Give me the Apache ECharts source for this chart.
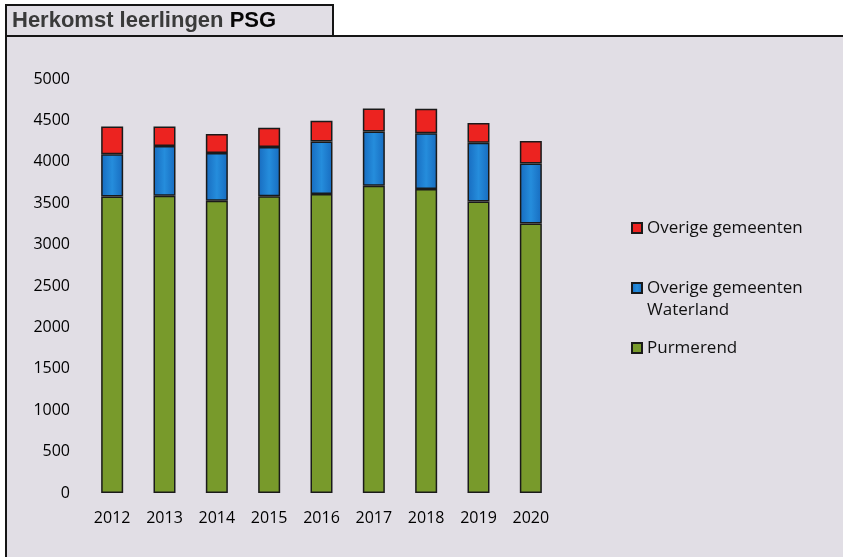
<!DOCTYPE html>
<html>
<head>
<meta charset="utf-8">
<script src="https://cdn.jsdelivr.net/npm/echarts@6/dist/echarts.min.js"></script>
<style>
  html, body { margin: 0; padding: 0; background: #ffffff; }
  #chart { width: 843px; height: 557px; }
</style>
</head>
<body>
<div id="chart"></div>
<script>
// School years shown on the x axis
const years = ['2012', '2013', '2014', '2015', '2016', '2017', '2018', '2019', '2020'];

// Pupils per origin, stacked from bottom to top
const purmerend = [3580, 3590, 3530, 3585, 3610, 3710, 3670, 3520, 3255];
const waterland = [510, 600, 575, 595, 635, 655, 675, 710, 725];
const overige = [335, 235, 230, 230, 250, 280, 295, 240, 270];

// Value axis ticks
const yMin = 0;
const yMax = 5000;
const yStep = 500;

const nameOverige = 'Overige gemeenten';
const nameWaterland = 'Overige gemeenten Waterland';
const namePurmerend = 'Purmerend';

const panelFill = '#e1dee5';
const frameColor = '#151515';
const labelFont = 'Open Sans';

const chart = echarts.init(document.getElementById('chart'), null, { renderer: 'canvas' });

const legendText = {
  fontFamily: labelFont,
  fontSize: 17,
  color: '#111111',
  lineHeight: 22
};

function legendAt(name, top, formatter) {
  return {
    data: [name],
    left: 626,
    top: top,
    orient: 'vertical',
    icon: 'rect',
    itemWidth: 10,
    itemHeight: 10,
    itemGap: 0,
    selectedMode: false,
    textStyle: legendText,
    formatter: formatter || '{name}'
  };
}

chart.setOption({
  backgroundColor: '#ffffff',
  animation: false,
  graphic: [
    {
      type: 'rect',
      z: -10,
      shape: { x: 6, y: 36, width: 860, height: 540 },
      style: { fill: panelFill, stroke: frameColor, lineWidth: 2 }
    },
    {
      type: 'rect',
      z: -10,
      shape: { x: 6, y: 5, width: 327, height: 31 },
      style: { fill: panelFill, stroke: frameColor, lineWidth: 2 }
    }
  ],
  title: {
    text: '{a|Herkomst leerlingen }{b|PSG}',
    left: 7,
    top: 5,
    textStyle: {
      rich: {
        a: { fontFamily: 'Liberation Sans', fontWeight: 'bold', fontSize: 22, color: '#3a3a3a' },
        b: { fontFamily: 'Liberation Sans', fontWeight: 'bold', fontSize: 22, color: '#050505' }
      }
    }
  },
  legend: [
    legendAt(nameOverige, 212),
    legendAt(nameWaterland, 250, function () { return '\nOverige gemeenten\nWaterland'; }),
    legendAt(namePurmerend, 332)
  ],
  grid: {
    left: 86,
    right: 286,
    top: 79,
    bottom: 64
  },
  xAxis: {
    type: 'category',
    data: years,
    axisLine: { show: false },
    axisTick: { show: false },
    axisLabel: {
      margin: 17,
      fontFamily: labelFont,
      fontSize: 16,
      color: '#000000'
    }
  },
  yAxis: {
    type: 'value',
    min: yMin,
    max: yMax,
    interval: yStep,
    axisLine: { show: false },
    axisTick: { show: false },
    splitLine: { show: false },
    axisLabel: {
      margin: 16,
      fontFamily: labelFont,
      fontSize: 16,
      color: '#000000',
      formatter: function (v) { return String(v); }
    }
  },
  series: [
    {
      name: namePurmerend,
      type: 'bar',
      stack: 'herkomst',
      barWidth: 22,
      data: purmerend,
      itemStyle: { color: '#789a2b', borderColor: '#1a1a1a', borderWidth: 1.5 }
    },
    {
      name: nameWaterland,
      type: 'bar',
      stack: 'herkomst',
      barWidth: 22,
      data: waterland,
      itemStyle: {
        color: new echarts.graphic.LinearGradient(0, 0, 1, 0, [
          { offset: 0, color: '#176bbf' },
          { offset: 0.5, color: '#258ddc' },
          { offset: 1, color: '#176bbf' }
        ]),
        borderColor: '#1a1a1a',
        borderWidth: 1.5
      }
    },
    {
      name: nameOverige,
      type: 'bar',
      stack: 'herkomst',
      barWidth: 22,
      data: overige,
      itemStyle: { color: '#ec2320', borderColor: '#1a1a1a', borderWidth: 1.5 }
    }
  ]
});
</script>
</body>
</html>
